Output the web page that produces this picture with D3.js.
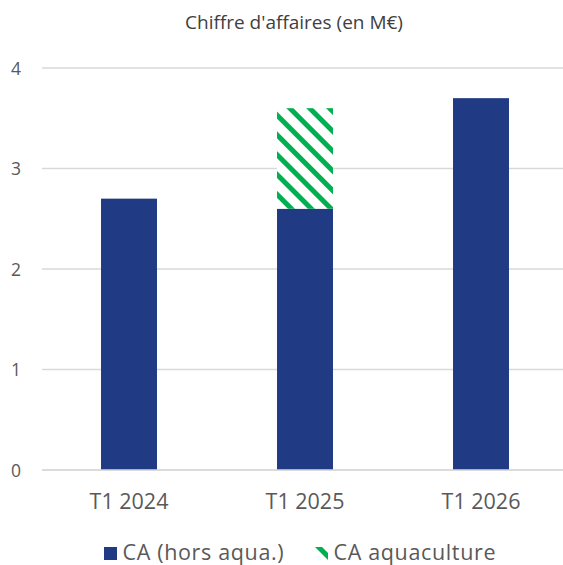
<!DOCTYPE html>
<html><head><meta charset="utf-8">
<script src="https://cdn.jsdelivr.net/npm/d3@7"></script>
<style>body{margin:0;background:#fff}svg{display:block}</style>
</head><body>
<script>
const categories = ["T1 2024", "T1 2025", "T1 2026"];
const caHorsAqua = [2.7, 2.6, 3.7];
const caAquaculture = [0, 1.0, 0];
const seriesNames = ["CA (hors aqua.)", "CA aquaculture"];
const yTicks = [0, 1, 2, 3, 4];
const title = "Chiffre d'affaires (en M€)";

const W = 563, H = 565;
const font = "'Open Sans', Roboto, sans-serif";
const svg = d3.select("body").append("svg").attr("width", W).attr("height", H);

const defs = svg.append("defs");
const pat = defs.append("pattern").attr("id", "hatch").attr("patternUnits", "userSpaceOnUse")
  .attr("width", 14).attr("height", 14).attr("patternTransform", "rotate(-45)");
pat.append("rect").attr("width", 14).attr("height", 14).attr("fill", "#fff");
pat.append("rect").attr("x", 0).attr("width", 5).attr("height", 14).attr("fill", "#00B050");

const x = d3.scaleBand().domain(categories).range([41, 569]).paddingInner(0.682).paddingOuter(0.341);
const y = d3.scaleLinear().domain([0, 4]).range([470, 68]);

// gridlines
svg.append("g").selectAll("line").data(yTicks).join("line")
  .attr("x1", 42).attr("x2", 563).attr("y1", d => y(d)).attr("y2", d => y(d))
  .attr("stroke", "#d9d9d9").attr("stroke-width", 1.3);

// y axis
const yAxis = svg.append("g").attr("transform", "translate(21,0)")
  .call(d3.axisLeft(y).tickValues(yTicks).tickSize(0).tickPadding(0).tickFormat(d3.format("d")));
yAxis.select(".domain").remove();
yAxis.selectAll("text").attr("font-family", font).attr("font-size", 17.5).attr("fill", "#595959").attr("dy", "0.36em");

const stack = categories.map((c, i) => ({c, a: caHorsAqua[i], b: caAquaculture[i]}));
svg.append("g").selectAll("rect").data(stack).join("rect")
  .attr("x", d => x(d.c)).attr("width", x.bandwidth())
  .attr("y", d => y(d.a)).attr("height", d => y(0) - y(d.a)).attr("fill", "#203A84");
svg.append("g").selectAll("rect").data(stack.filter(d => d.b > 0)).join("rect")
  .attr("x", d => x(d.c)).attr("width", x.bandwidth())
  .attr("y", d => y(d.a + d.b)).attr("height", d => y(d.a) - y(d.a + d.b)).attr("fill", "url(#hatch)");

// x axis
const xAxis = svg.append("g").attr("transform", "translate(0,470)")
  .call(d3.axisBottom(x).tickSize(0).tickPadding(0));
xAxis.select(".domain").remove();
xAxis.selectAll("text").attr("font-family", font).attr("font-size", 21.5).attr("fill", "#595959")
  .attr("dy", null).attr("y", 39);
svg.append("line").attr("x1", 42).attr("x2", 563).attr("y1", 470).attr("y2", 470).attr("stroke", "#d9d9d9").attr("stroke-width", 1.3);

// title
svg.append("text").attr("x", 294).attr("y", 29).attr("text-anchor", "middle")
  .attr("font-family", font).attr("font-size", 19).attr("fill", "#404040").text(title);

// legend
const leg = [{name: seriesNames[0], fill: "#203A84", x: 104}, {name: seriesNames[1], fill: "url(#hatch)", x: 315}];
const lg = svg.append("g").selectAll("g").data(leg).join("g").attr("transform", d => `translate(${d.x},547)`);
lg.append("rect").attr("width", 13).attr("height", 13).attr("fill", d => d.fill);
lg.append("text").attr("x", 18.5).attr("y", 13)
  .attr("font-family", font).attr("font-size", 21.5).attr("letter-spacing", 0.65).attr("fill", "#595959").text(d => d.name);
</script>
</body></html>
